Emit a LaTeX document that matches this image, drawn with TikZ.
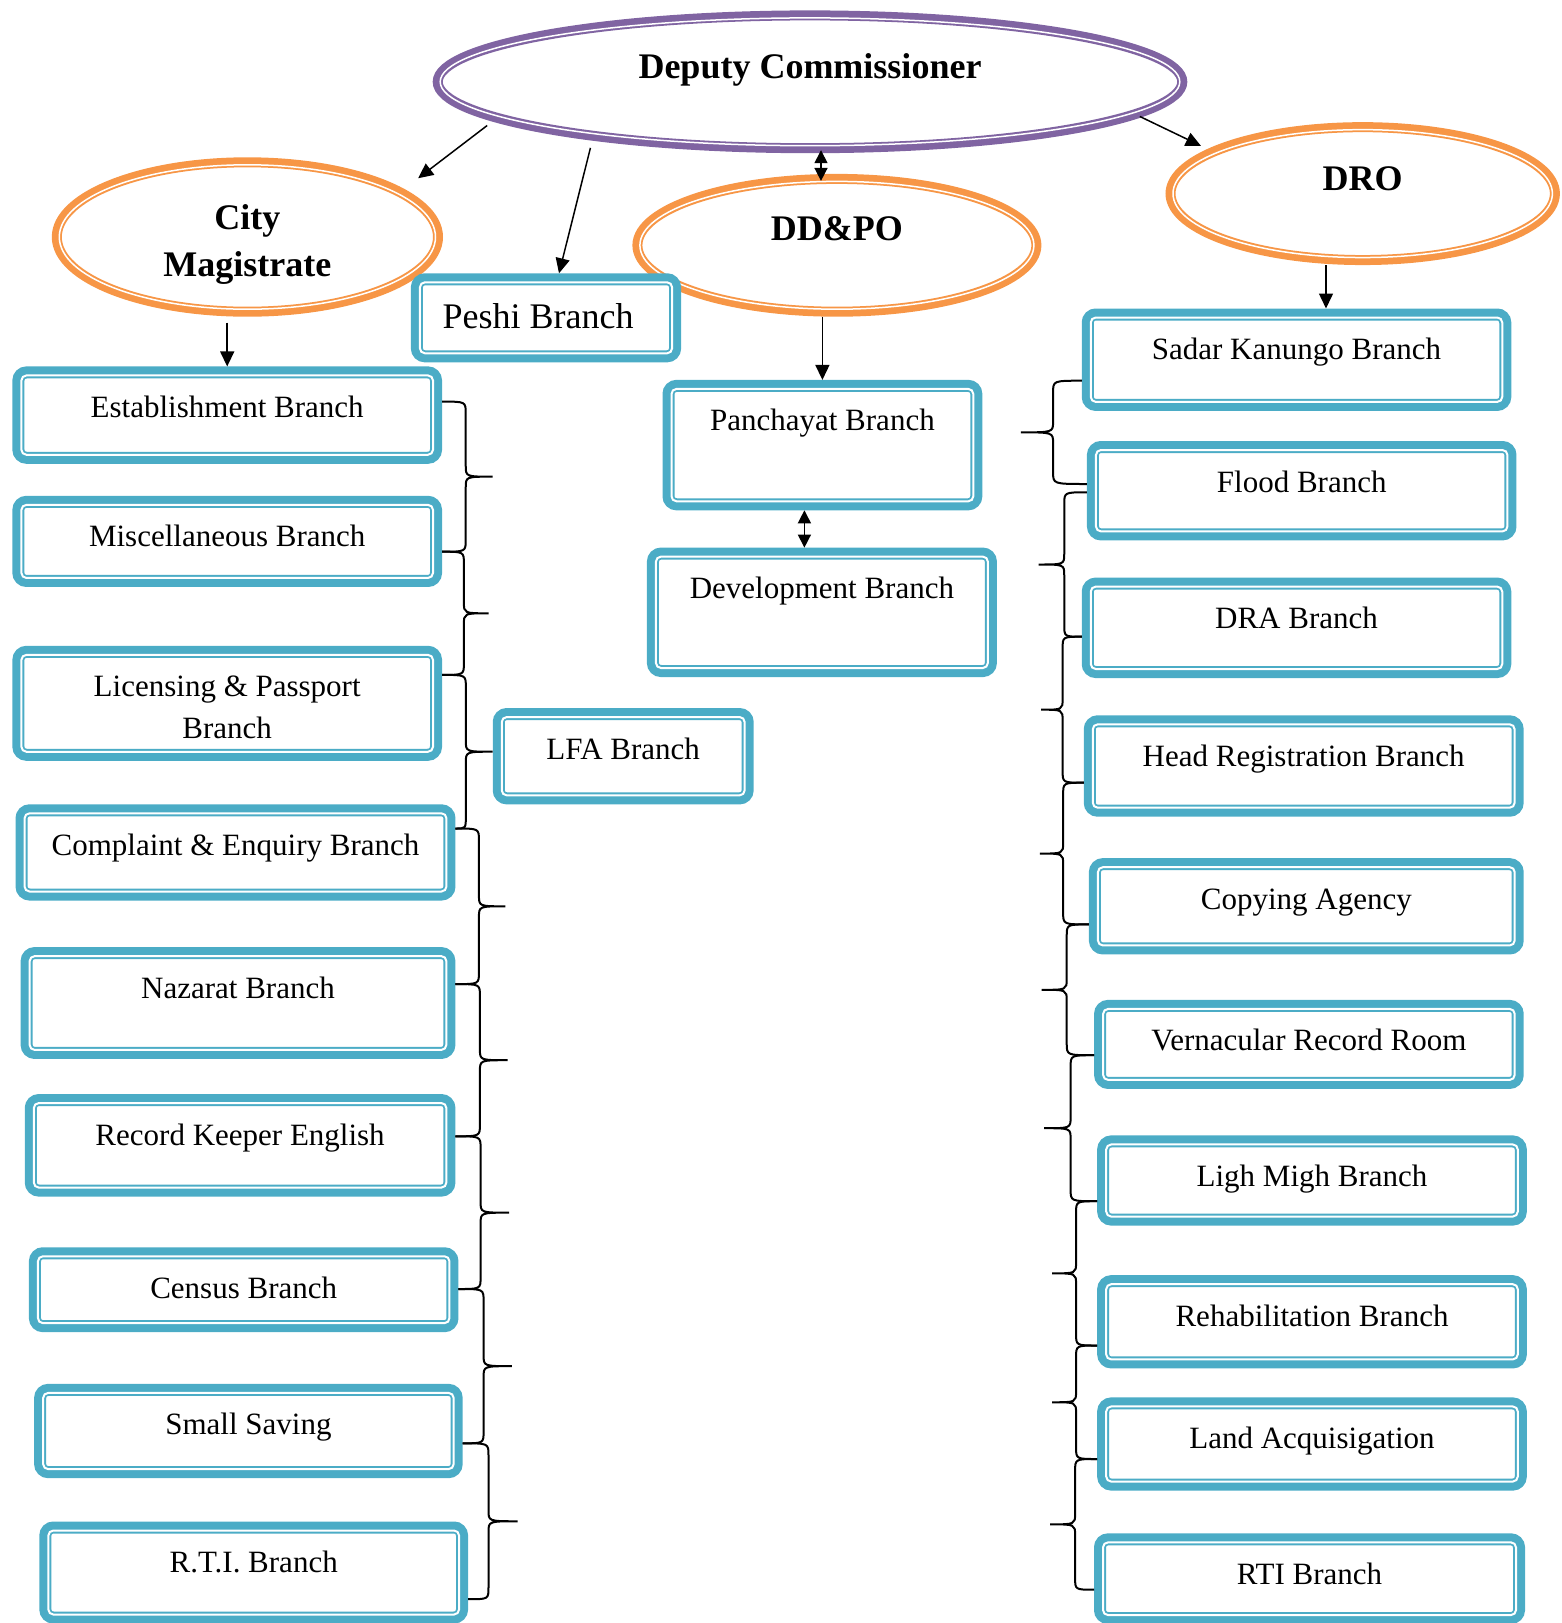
\documentclass[tikz,border=0pt]{standalone}
\usepackage{fontspec}
\setmainfont{Liberation Serif}
\usetikzlibrary{arrows.meta,shapes.geometric,calc}
\definecolor{ofblue}{HTML}{4BACC6}
\definecolor{oforange}{HTML}{F79646}
\definecolor{ofpurple}{HTML}{8064A2}
\newlength{\pxl}
\setlength{\pxl}{0.5pt}

\begin{document}
\begin{tikzpicture}[
    x=0.5pt, y=-0.5pt,
    branch/.style={rectangle, rounded corners=8\pxl, draw=ofblue, fill=white,
                   line width=12\pxl, inner sep=0pt},
    oval/.style={ellipse, draw=#1, fill=white, line width=10\pxl, inner sep=0pt},
    inline/.style={white, line width=2\pxl, rounded corners=5\pxl},
    btxt/.style={anchor=base, yshift=-51\pxl, align=center, inner sep=0pt,
                 font=\fontsize{15.5}{20.7}\selectfont},
    otxt/.style={anchor=base, align=center, inner sep=0pt,
                 font=\fontsize{18}{23.8}\selectfont\bfseries},
    arr/.style={-{Triangle[length=7.5pt, width=7pt]}, line width=1.5\pxl},
    dbl/.style={{Triangle[length=6.5pt, width=6.5pt]}-{Triangle[length=6.5pt, width=6.5pt]},
                line width=1.5\pxl},
    brc/.style={line width=2\pxl, to path={let \p1=(\tikztostart), \p2=(\tikztotarget),
                  \n1={\x1+0.47*#1*\pxl}, \n2={\x1+#1*\pxl}, \n3={0.5*(\y1+\y2)} in
                  (\p1) .. controls (\n1,\y1) .. (\n1,\y1-12\pxl) -- (\n1,\n3+11\pxl)
                  .. controls (\n1,\n3) .. (\n2,\n3)
                  .. controls (\n1,\n3) .. (\n1,\n3-11\pxl) -- (\n1,\y2+12\pxl)
                  .. controls (\n1,\y2) .. (\p2)}}
  ]

  \useasboundingbox (0,0) rectangle (1562,1623);

  % ---- Officers (ellipses) ----
  \node[oval=ofpurple, minimum width=744.6\pxl, minimum height=132.8\pxl,
        label={[otxt, yshift=-68\pxl]north:Deputy Commissioner}] (dc) at (810,81.8) {};
  \node[oval=oforange, minimum width=381.2\pxl, minimum height=149.4\pxl,
        label={[otxt, yshift=-119.3\pxl]north:City\\Magistrate}] (cm) at (247.4,237) {};
  \node[oval=oforange, minimum width=399\pxl, minimum height=132.8\pxl,
        label={[otxt, yshift=-67\pxl]north:DD\&PO}] (ddpo) at (836.9,245.3) {};
  \node[oval=oforange, minimum width=384.4\pxl, minimum height=132.9\pxl,
        label={[otxt, yshift=-68.4\pxl]north:DRO}] (dro) at (1362.7,193.6) {};

  % thin inner ring of each ellipse
  \foreach \ov in {dc,cm,ddpo,dro}{
    \draw[white, line width=1.5\pxl]
      let \p1=($(\ov.east)-(\ov.center)$), \p2=($(\ov.north)-(\ov.center)$) in
      (\ov.center) ellipse ({\x1-7.5\pxl} and {\y2-7.5\pxl});
  }

  % ---- Middle branches ----
  \node[branch, minimum width=258.2\pxl, minimum height=77\pxl,
        label={[btxt, xshift=-8\pxl, yshift=-3.7\pxl, font=\fontsize{18}{21}\selectfont]north:Peshi Branch}]
    (peshi) at (546,317.8) {};
  \node[branch, minimum width=307.8\pxl, minimum height=118.4\pxl,
        label={[btxt]north:Panchayat Branch}] (panch) at (822.4,445.1) {};
  \node[branch, minimum width=337.9\pxl, minimum height=117.4\pxl,
        label={[btxt]north:Development Branch}] (devel) at (821.9,612.3) {};
  \node[branch, minimum width=248.9\pxl, minimum height=84.3\pxl,
        label={[btxt]north:LFA Branch}] (lfa) at (623.2,756.2) {};

  % ---- City Magistrate branches (left column) ----
  \node[branch, minimum width=417.6\pxl, minimum height=85.3\pxl,
        label={[btxt]north:Establishment Branch}] (estab) at (227.2,415.1) {};
  \node[branch, minimum width=417.6\pxl, minimum height=79.1\pxl,
        label={[btxt]north:Miscellaneous Branch}] (misc) at (227.2,541.4) {};
  \node[branch, minimum width=417.6\pxl, minimum height=102.9\pxl,
        label={[btxt, yshift=-41.4\pxl]north:Licensing \& Passport\\Branch}] (licen) at (227.2,703.3) {};
  \node[branch, minimum width=427.9\pxl, minimum height=84.2\pxl,
        label={[btxt]north:Complaint \& Enquiry Branch}] (compl) at (235.5,852.4) {};
  \node[branch, minimum width=422.7\pxl, minimum height=99.8\pxl,
        label={[btxt]north:Nazarat Branch}] (nazar) at (238,1003) {};
  \node[branch, minimum width=418.6\pxl, minimum height=90.5\pxl,
        label={[btxt]north:Record Keeper English}] (rkeng) at (240.1,1145.3) {};
  \node[branch, minimum width=417.5\pxl, minimum height=72.9\pxl,
        label={[btxt]north:Census Branch}] (census) at (243.7,1289.7) {};
  \node[branch, minimum width=416.5\pxl, minimum height=82.2\pxl,
        label={[btxt]north:Small Saving}] (saving) at (248.4,1431) {};
  \node[branch, minimum width=416.7\pxl, minimum height=90\pxl,
        label={[btxt]north:R.T.I. Branch}] (rtil) at (253.7,1572.5) {};

  % ---- DRO branches (right column) ----
  \node[branch, minimum width=417.5\pxl, minimum height=90.4\pxl,
        label={[btxt]north:Sadar Kanungo Branch}] (sadar) at (1296.5,359.7) {};
  \node[branch, minimum width=417.5\pxl, minimum height=87.4\pxl,
        label={[btxt]north:Flood Branch}] (flood) at (1301.7,490.7) {};
  \node[branch, minimum width=417.5\pxl, minimum height=88.4\pxl,
        label={[btxt]north:DRA Branch}] (dra) at (1296.5,627.8) {};
  \node[branch, minimum width=427.9\pxl, minimum height=89.4\pxl,
        label={[btxt]north:Head Registration Branch}] (headreg) at (1303.7,766) {};
  \node[branch, minimum width=422.8\pxl, minimum height=84.3\pxl,
        label={[btxt]north:Copying Agency}] (copying) at (1306.3,906.3) {};
  \node[branch, minimum width=417.6\pxl, minimum height=77\pxl,
        label={[btxt]north:Vernacular Record Room}] (vernac) at (1308.9,1044.4) {};
  \node[branch, minimum width=417.6\pxl, minimum height=78.1\pxl,
        label={[btxt]north:Ligh Migh Branch}] (lighmigh) at (1312,1180.5) {};
  \node[branch, minimum width=417.6\pxl, minimum height=81.2\pxl,
        label={[btxt]north:Rehabilitation Branch}] (rehab) at (1312,1321.8) {};
  \node[branch, minimum width=417.6\pxl, minimum height=81.1\pxl,
        label={[btxt]north:Land Acquisigation}] (landacq) at (1312,1444) {};
  \node[branch, minimum width=419\pxl, minimum height=78.7\pxl,
        label={[btxt]north:RTI Branch}] (rtir) at (1309.5,1578.7) {};

  % thin inner line of each branch box
  \foreach \bx in {peshi,panch,devel,lfa,estab,misc,licen,compl,nazar,rkeng,census,saving,rtil,
                   sadar,flood,dra,headreg,copying,vernac,lighmigh,rehab,landacq,rtir}{
    \draw[inline] ([shift={(9\pxl,-9\pxl)}]\bx.north west) rectangle ([shift={(-9\pxl,9\pxl)}]\bx.south east);
  }

  % ---- Arrows ----
  \draw[arr, shorten <=8\pxl, shorten >=18\pxl] (dc.187.3) -- (cm.17.7);
  \draw[arr, shorten <=8\pxl] (dc.195.5) -- ([xshift=13\pxl]peshi.north);
  \draw[dbl, shorten <=-3\pxl, shorten >=-7\pxl]
    ([xshift=11\pxl]dc.south) -- ([xshift=11\pxl]dc.south |- ddpo.north);
  \draw[arr, shorten >=8\pxl] (dc.354.3) -- (dro.164.5);
  \draw[arr, shorten <=6\pxl] (cm.south -| estab.north) -- (estab.north);
  \draw[arr] (ddpo.south -| panch.north) -- (panch.north);
  \draw[dbl] ([xshift=-18\pxl]panch.south) -- ([xshift=-18\pxl]panch.south |- devel.north);
  \draw[arr] ([xshift=29.5\pxl]sadar.north |- dro.south) -- ([xshift=29.5\pxl]sadar.north);

  % ---- Braces, left column (tips to the right) ----
  \foreach \a/\da/\b/\db/\amp in {estab/13.5/misc/-10.3/50.5, misc/-10.3/licen/28.4/46.6,
      licen/28.4/compl/23.9/50.7, compl/23.9/nazar/18.9/50, nazar/18.9/rkeng/9/52.3,
      rkeng/9/census/0.7/53.6, census/0.7/saving/-12.3/53.5, saving/-12.3/rtil/-26.7/55}{
    \draw[brc=\amp] ([yshift=\da\pxl]\a.east) to ([yshift=\db\pxl]\b.east);
  }

  % ---- Braces, right column (tips to the left) ----
  \foreach \a/\da/\b/\db/\amp in {sadar/-21/flood/6.7/-61, flood/-1.6/dra/-8.9/-48.3,
      dra/-8.9/headreg/-16.7/-40.7, headreg/-16.7/copying/-18.1/-43.8,
      copying/-18.1/vernac/-10.8/-47.2, vernac/-10.8/lighmigh/-20.7/-50,
      lighmigh/-20.7/rehab/-23.7/-45, rehab/-23.7/landacq/-15/-45, landacq/-15/rtir/-11/-47}{
    \draw[brc=\amp] ([yshift=\da\pxl]\a.west) to ([yshift=\db\pxl]\b.west);
  }

\end{tikzpicture}
\end{document}
